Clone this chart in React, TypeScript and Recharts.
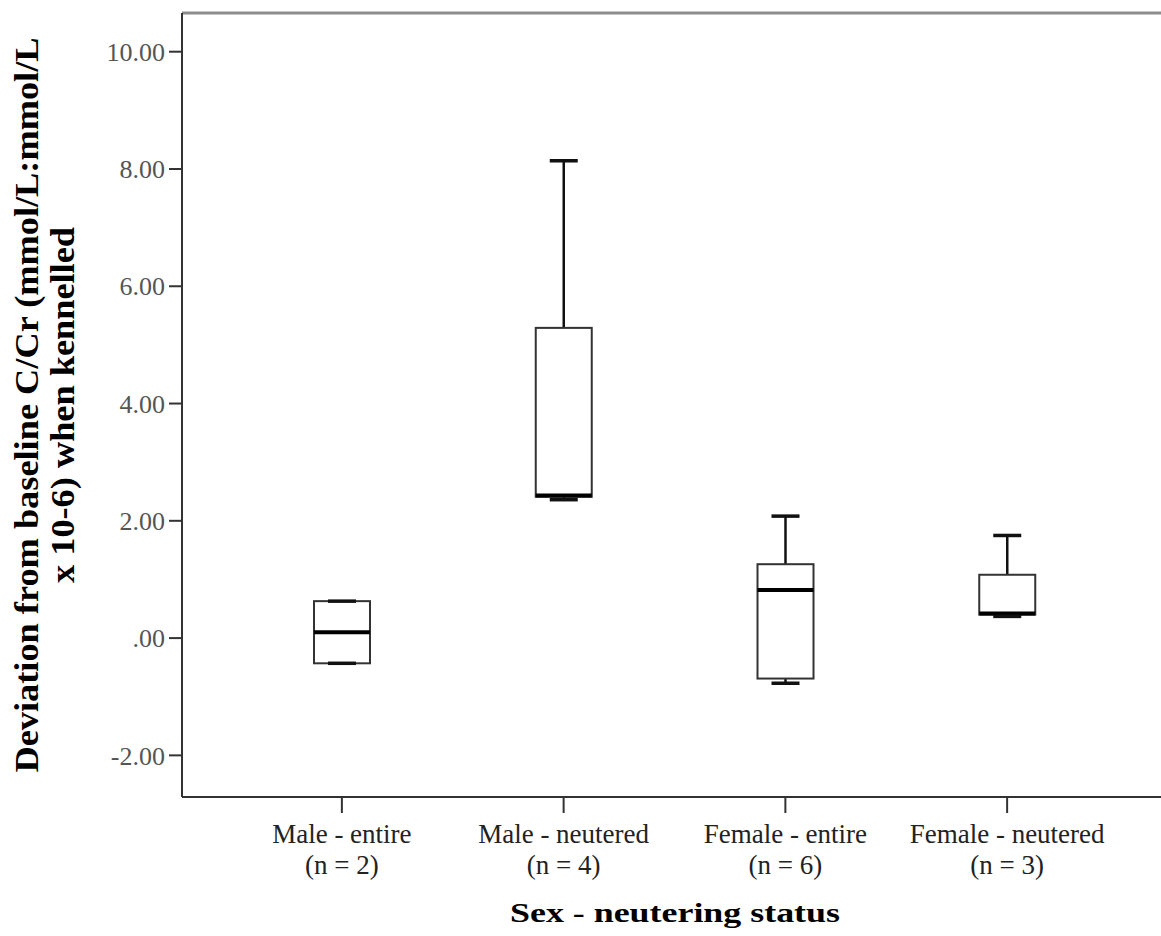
import { Bar, ComposedChart, ReferenceLine, XAxis, YAxis } from "recharts";

const categories = ["Male - entire", "Male - neutered", "Female - entire", "Female - neutered"];
const sampleSizes = [2, 4, 6, 3];
const mins = [-0.43, 2.36, -0.77, 0.37];
const q1s = [-0.43, 2.41, -0.69, 0.4];
const medians = [0.1, 2.43, 0.82, 0.42];
const q3s = [0.63, 5.29, 1.26, 1.08];
const maxes = [0.63, 8.14, 2.08, 1.75];
const yTicks = [-2, 0, 2, 4, 6, 8, 10];
const yMin = -2.71;
const yMax = 10.66;

const serif = "'Liberation Serif', 'Times New Roman', serif";

const rows = categories.map((name, i) => ({
  name,
  n: sampleSizes[i],
  min: mins[i],
  q1: q1s[i],
  median: medians[i],
  q3: q3s[i],
  max: maxes[i],
  span: [mins[i], maxes[i]]
}));

function BoxShape(props: any) {
  const { x, y, width, height, payload } = props;
  const top = Math.min(y, y + height);
  const h = Math.abs(height);
  const { min, q1, median, q3, max } = payload;
  // map a value inside the bar's [min, max] span back onto the bar's pixels
  const py = (v: number) => (max === min ? top : top + ((max - v) / (max - min)) * h);
  const cx = x + width / 2;
  const cap = width / 4;
  return (
    <g>
      <line x1={cx} x2={cx} y1={py(max)} y2={py(q3)} stroke="#111" strokeWidth={2.5} />
      <line x1={cx} x2={cx} y1={py(q1)} y2={py(min)} stroke="#111" strokeWidth={2.5} />
      <rect
        x={x}
        y={py(q3)}
        width={width}
        height={Math.max(py(q1) - py(q3), 0)}
        fill="#fff"
        stroke="#333"
        strokeWidth={2}
      />
      <line x1={x} x2={x + width} y1={py(median)} y2={py(median)} stroke="#000" strokeWidth={4} />
      <line x1={cx - cap} x2={cx + cap} y1={py(max)} y2={py(max)} stroke="#111" strokeWidth={3.5} />
      <line x1={cx - cap} x2={cx + cap} y1={py(min)} y2={py(min)} stroke="#111" strokeWidth={3.5} />
    </g>
  );
}

function CategoryTick(props: any) {
  const { x, payload, index } = props;
  return (
    <g>
      <text x={x} y={843} textAnchor="middle" fontFamily={serif} fontSize={27} fill="#222">
        {payload.value}
      </text>
      <text x={x} y={874} textAnchor="middle" fontFamily={serif} fontSize={27} fill="#222">
        {`(n = ${sampleSizes[index]})`}
      </text>
    </g>
  );
}

function XTitle() {
  return (
    <text
      x={675}
      y={922}
      textAnchor="middle"
      fontFamily={serif}
      fontWeight="bold"
      fontSize={28}
      fill="#000"
      textLength={330}
      lengthAdjust="spacingAndGlyphs"
    >
      Sex - neutering status
    </text>
  );
}

function YTitle() {
  return (
    <g fontFamily={serif} fontWeight="bold" fontSize={33} fill="#000">
      <text
        x={0}
        y={0}
        textAnchor="middle"
        transform="translate(38 405) rotate(-90)"
        textLength={735}
        lengthAdjust="spacingAndGlyphs"
      >
        Deviation from baseline C/Cr  (mmol/L:mmol/L
      </text>
      <text
        x={0}
        y={0}
        textAnchor="middle"
        transform="translate(74 405) rotate(-90)"
        textLength={356}
        lengthAdjust="spacingAndGlyphs"
      >
        x 10-6) when kennelled
      </text>
    </g>
  );
}

export default function App() {
  return (
    <div style={{ position: "absolute", left: 0, top: 0, background: "#fff" }}>
      <ComposedChart width={1161} height={936} data={rows} margin={{ top: 13, right: 0, bottom: 0, left: 0 }}>
        <XAxis
          dataKey="name"
          height={139}
          interval={0}
          padding={{ left: 49, right: 43 }}
          axisLine={{ stroke: "#333", strokeWidth: 2 }}
          tickLine={{ stroke: "#333", strokeWidth: 2 }}
          tickSize={16}
          tick={<CategoryTick />}
          label={{ content: XTitle }}
        />
        <YAxis
          type="number"
          width={182}
          domain={[yMin, yMax]}
          ticks={yTicks}
          allowDataOverflow
          axisLine={{ stroke: "#333", strokeWidth: 2 }}
          tickLine={{ stroke: "#333", strokeWidth: 2 }}
          tickSize={13}
          tickMargin={4}
          tick={{ fontSize: 26, fill: "#555", fontFamily: serif }}
          tickFormatter={(v: number) => (v === 0 ? ".00" : v.toFixed(2))}
          label={{ content: YTitle }}
        />
        <ReferenceLine y={yMax} stroke="#8c8c8c" strokeWidth={3} ifOverflow="visible" />
        <Bar dataKey="span" barSize={56} shape={BoxShape} isAnimationActive={false} />
      </ComposedChart>
    </div>
  );
}
